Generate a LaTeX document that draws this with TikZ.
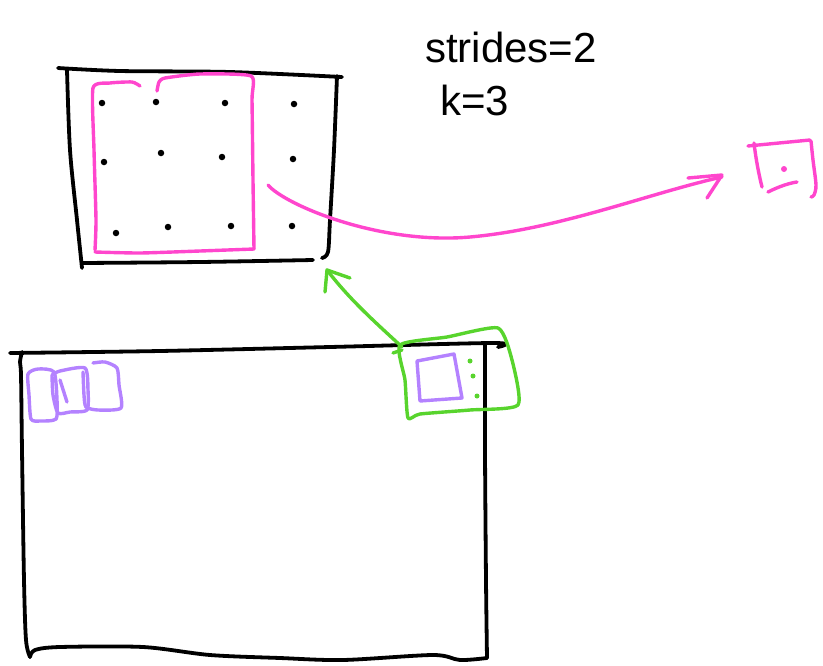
\documentclass[tikz,border=0pt]{standalone}
\usepackage{fontspec}
\setmainfont{Liberation Sans}
\definecolor{pinkpen}{RGB}{255,70,205}
\definecolor{greenpen}{RGB}{88,212,45}
\definecolor{purplepen}{RGB}{180,130,255}
\begin{document}
\begin{tikzpicture}[x=1pt,y=-1pt,
  pen/.style={line width=3.4pt,line cap=round,line join=round},
  blackpen/.style={pen,black,line width=3.8pt},
  pinkpen line/.style={pen,pinkpen},
  greenpen line/.style={pen,greenpen},
  purplepen line/.style={pen,purplepen},
  dotmark/.style={circle,fill=black,inner sep=0pt,minimum size=6.5pt},
  handtext/.style={font=\fontsize{42}{46}\selectfont,inner sep=0pt,anchor=base west}]
\useasboundingbox (0,0) rectangle (823,665);

% text
\node[handtext] (strides) at (425,62) {strides=2};
\node[handtext] (kval) at (440,115) {k=3};

% upper black box
\draw[blackpen] plot[smooth,tension=0.5] coordinates {(58,68) (120,71) (230,72) (342,77)};
\draw[blackpen] plot[smooth,tension=0.5] coordinates {(67,70) (70,150) (77,220) (82,268)};
\draw[blackpen] plot[smooth,tension=0.5] coordinates {(82,263) (200,262) (313,260)};
\draw[blackpen] plot[smooth,tension=0.5] coordinates {(337,76) (334,150) (330,220) (328,252) (322,258)};

% dots
\foreach \p/\n in {{(102,103)}/a1,{(156,102)}/a2,{(225,103)}/a3,{(294,104)}/a4,
                   {(104,162)}/b1,{(161,153)}/b2,{(222,157)}/b3,{(293,159)}/b4,
                   {(116,233)}/c1,{(168,227)}/c2,{(231,226)}/c3,{(292,226)}/c4}
  \node[dotmark] (d\n) at \p {};

% pink kernel box
\draw[pinkpen line] plot[smooth,tension=0.35] coordinates {(140,86) (132,82) (110,83) (93,88) (94,150) (96,220) (95,250)};
\draw[pinkpen line] plot[smooth,tension=0.35] coordinates {(95,252) (140,253) (200,251) (254,249)};
\draw[pinkpen line] plot[smooth,tension=0.35] coordinates {(254,249) (253,180) (252,100) (251,76) (200,74) (165,78) (159,82) (157,91)};

% pink arrow
\coordinate (pstart) at (268,185);
\coordinate (ptip) at (722,177);
\draw[pinkpen line] (pstart) .. controls (285,205) and (380,245) .. (470,237) .. controls (560,229) and (650,193) .. (ptip);
\draw[pinkpen line] (688,178) -- (722,175) -- (707,198);

% pink output box
\draw[pinkpen line] (748,146) -- (810,140);
\draw[pinkpen line] (754,143) .. controls (756,160) and (759,175) .. (762,187);
\draw[pinkpen line] plot[smooth,tension=0.5] coordinates {(811,141) (813,160) (816,185) (814,195) (811,197)};
\draw[pinkpen line] (768,192) .. controls (780,186) and (790,183) .. (797,182);
\node[circle,fill=pinkpen,inner sep=0pt,minimum size=6pt] (pdot) at (784,169) {};

% lower black box
\draw[blackpen] plot[smooth,tension=0.5] coordinates {(10,353) (160,351) (330,347) (494,343) (498,347)};
\draw[blackpen] plot[smooth,tension=0.5] coordinates {(22,352) (20,362) (21,375) (22,450) (24,580) (26,640) (30,657)};
\draw[blackpen] plot[smooth,tension=0.5] coordinates {(30,657) (35,650) (60,647) (143,647) (210,655) (280,658) (343,660) (433,655) (460,660) (487,658)};
\draw[blackpen] plot[smooth,tension=0.5] coordinates {(485,345) (485,450) (486,580) (487,658)};

% purple boxes at start
\draw[purplepen line] plot[smooth cycle,tension=0.4] coordinates {(28,374) (38,369) (54,372) (57,400) (56,419) (40,421) (31,419) (29,395)};
\draw[purplepen line] plot[smooth,tension=0.4] coordinates {(52,375) (60,371) (85,368) (88,390) (87,410) (70,412) (58,413) (53,395) (52,375)};
\draw[purplepen line] plot[smooth,tension=0.4] coordinates {(83,372) (84,395) (86,407) (98,410)  (121,408) (119,385) (117,368) (105,362) (93,363)};
\draw[purplepen line] (60,380) -- (67,402);

% green window + arrow
\draw[greenpen line] plot[smooth cycle,tension=0.35] coordinates {(400,345) (447,337) (498,328) (512,360) (518,405) (470,410) (420,414) (408,418) (405,380)};
\draw[greenpen line] (393,353) -- (402,350);
\draw[purplepen line] (417,361) -- (454,354) -- (462,398) -- (420,401) -- cycle;
\node[circle,fill=greenpen,inner sep=0pt,minimum size=5pt] (g1) at (470,361) {};
\node[circle,fill=greenpen,inner sep=0pt,minimum size=5pt] (g2) at (473,376) {};
\node[circle,fill=greenpen,inner sep=0pt,minimum size=5pt] (g3) at (477,396) {};
\coordinate (gstart) at (402,347);
\coordinate (gtip) at (327,270);
\draw[greenpen line] (gstart) .. controls (375,322) and (350,300) .. (gtip);
\draw[greenpen line] (325,292) -- (gtip) -- (350,278);
\end{tikzpicture}
\end{document}
